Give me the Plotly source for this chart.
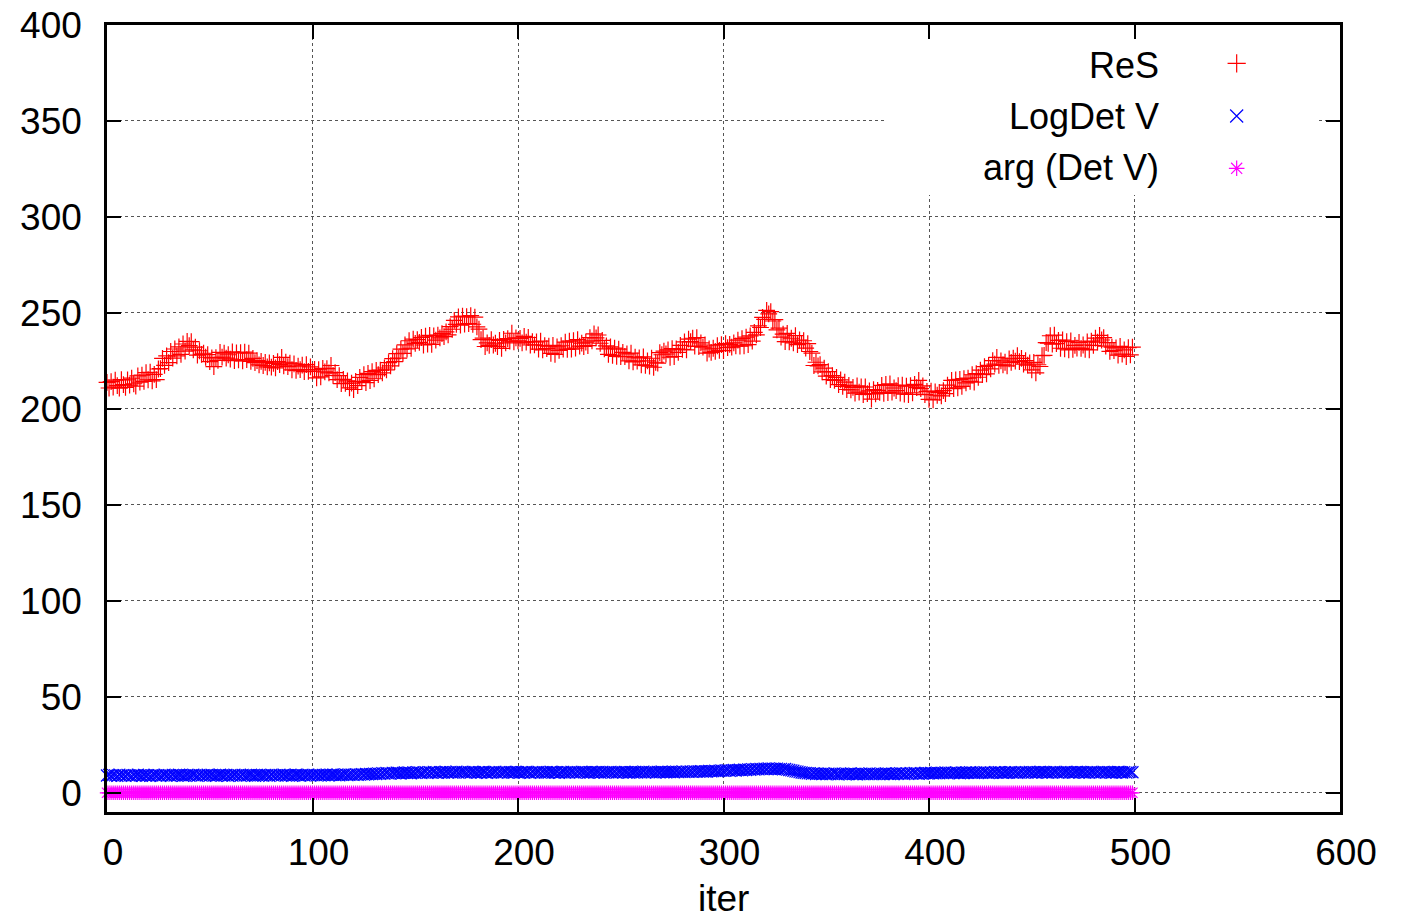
import plotly.graph_objects as go

# ---------------- data ----------------
iters = list(range(500))

res = [
    213.8, 210.9, 214.2, 211.3, 215.0, 212.1, 210.8, 215.3, 212.6, 211.2, 215.1, 212.4, 216.0, 213.1, 211.9, 217.2, 214.0, 217.6, 214.3, 218.9, 215.2, 219.1, 214.6, 218.0, 215.3,
    220.8, 221.0, 226.3, 222.7, 227.6, 224.1, 229.9, 226.5, 231.2, 227.6, 232.3, 228.4, 233.8, 230.1, 235.2, 233.0, 235.1, 230.8, 232.2, 228.0, 230.3, 228.4, 229.0, 226.9, 228.3,
    224.6, 226.6, 222.0, 226.7, 225.3, 229.4, 227.0, 229.1, 226.5, 228.2, 225.9, 229.7, 225.1, 229.2, 225.6, 229.3, 225.0, 229.6, 225.7, 229.1, 224.8, 226.3, 224.1, 225.2, 222.9,
    224.8, 222.6, 224.2, 221.9, 224.0, 221.8, 223.7, 221.4, 224.6, 223.1, 226.8, 222.4, 224.3, 222.0, 223.8, 220.3, 223.5, 220.1, 222.3, 220.5, 222.8, 219.4, 223.1, 219.6, 221.9,
    219.7, 220.6, 216.2, 220.4, 216.7, 221.1, 219.3, 221.0, 218.8, 222.6, 217.5, 218.9, 215.3, 217.3, 213.2, 215.4, 213.3, 214.6, 211.0, 213.4, 210.1, 214.3, 212.1, 216.4, 214.2,
    217.9, 213.7, 218.5, 214.8, 219.4, 215.7, 220.1, 217.9, 220.2, 218.8, 221.3, 220.3, 224.1, 222.4, 226.2, 224.6, 228.8, 226.5, 231.1, 228.9, 233.4, 231.2, 235.5, 231.6, 236.4,
    234.1, 236.1, 234.7, 237.2, 233.3, 237.9, 233.8, 238.3, 233.6, 238.0, 235.8, 238.4, 237.0, 239.2, 237.7, 240.1, 238.6, 242.9, 241.5, 246.1, 244.0, 247.9, 243.6, 248.3, 244.2,
    248.0, 244.5, 248.6, 244.1, 247.8, 242.7, 241.6, 236.1, 236.9, 232.5, 234.4, 233.1, 236.1, 233.3, 234.2, 232.4, 235.7, 231.5, 236.2, 234.4, 236.6, 235.3, 239.4, 234.9, 237.0,
    235.4, 236.7, 234.4, 237.8, 234.8, 237.2, 233.3, 235.1, 233.4, 234.9, 231.1, 235.3, 230.8, 233.0, 231.4, 232.7, 228.9, 233.1, 228.4, 232.3, 230.5, 232.9, 231.2, 234.8, 231.0,
    235.3, 231.1, 235.5, 231.7, 236.1, 232.7, 234.3, 232.5, 234.8, 233.0, 237.1, 235.4, 239.1, 237.0, 238.5, 234.2, 235.7, 231.3, 232.8, 228.4, 232.3, 227.9, 231.7, 227.4, 231.1,
    227.2, 229.4, 227.3, 228.7, 225.0, 229.1, 224.5, 227.0, 224.9, 226.6, 222.9, 227.1, 222.7, 225.0, 222.3, 226.4, 221.7, 224.3, 223.9, 229.3, 228.2, 230.1, 228.6, 230.7, 226.9,
    231.4, 227.3, 231.2, 229.4, 233.1, 231.0, 234.9, 230.7, 236.3, 235.1, 236.8, 232.7, 237.1, 232.5, 234.4, 232.2, 233.3, 229.1, 231.2, 229.4, 231.6, 230.0, 232.9, 230.5, 233.5,
    230.4, 234.0, 231.9, 233.6, 232.2, 234.4, 232.8, 235.8, 232.7, 236.6, 232.9, 237.4, 233.5, 238.0, 235.3, 239.9, 238.6, 243.3, 242.4, 247.7, 246.6, 251.3, 249.5, 250.7, 245.8,
    246.5, 241.2, 242.1, 237.4, 239.0, 235.1, 239.3, 234.9, 236.8, 234.4, 238.2, 233.5, 235.9, 234.1, 235.5, 231.7, 234.0, 229.9, 229.1, 222.6, 224.3, 222.4, 223.1, 219.3, 221.2,
    217.1, 219.4, 215.3, 217.3, 214.9, 216.4, 212.6, 215.1, 211.7, 214.0, 210.1, 212.3, 209.9, 211.2, 208.2, 212.0, 208.7, 211.5, 207.5, 211.4, 208.0, 209.4, 205.1, 210.0, 207.8,
    209.7, 208.6, 212.3, 208.1, 212.7, 208.5, 213.0, 208.8, 210.9, 209.5, 212.1, 208.2, 212.4, 207.7, 211.9, 207.5, 212.1, 208.3, 212.8, 211.1, 214.9, 210.6, 212.0, 207.4, 209.1,
    205.0, 209.3, 204.7, 208.9, 207.1, 208.6, 206.8, 209.5, 208.0, 212.4, 210.7, 214.9, 210.6, 215.1, 211.0, 215.4, 211.7, 215.8, 213.6, 216.0, 214.3, 217.8, 214.0, 218.4, 216.5,
    220.2, 217.9, 222.0, 218.3, 222.7, 220.9, 225.1, 223.3, 226.8, 222.7, 225.0, 222.9, 224.3, 222.4, 226.1, 224.2, 226.4, 224.9, 227.8, 224.6, 226.3, 223.3, 225.1, 222.8, 224.0,
    220.3, 224.2, 218.8, 223.0, 222.1, 227.7, 227.9, 234.5, 234.2, 238.1, 233.7, 238.4, 234.0, 235.7, 231.6, 235.9, 231.3, 235.1, 230.8, 235.4, 231.0, 233.1, 231.7, 234.6, 231.5,
    233.3, 231.0, 234.9, 230.7, 235.3, 233.1, 236.9, 234.8, 238.3, 235.9, 237.1, 232.7, 234.5, 230.0, 232.2, 230.4, 231.8, 228.0, 232.6, 228.5, 230.7, 227.3, 231.9, 228.1, 232.2,
]

logdet_v = [
    9.0, 9.3, 8.9, 9.2, 9.1, 8.8, 9.4, 9.0, 9.2, 8.9, 9.3, 9.1, 8.8, 9.2, 9.0, 9.4, 9.1, 8.9, 9.3, 9.0, 9.2, 8.8, 9.1, 9.3, 9.0,
    9.2, 8.9, 9.1, 9.4, 9.0, 9.2, 8.9, 9.3, 9.1, 9.0, 9.4, 9.2, 8.9, 9.1, 9.3, 9.0, 9.2, 9.4, 9.1, 8.9, 9.3, 9.0, 9.2, 9.1, 9.4,
    9.0, 9.3, 9.1, 8.9, 9.2, 9.4, 9.0, 9.1, 9.3, 8.9, 9.2, 9.0, 9.4, 9.1, 9.2, 8.9, 9.3, 9.1, 9.0, 9.2, 9.4, 9.1, 8.9, 9.3, 9.2,
    9.1, 9.0, 9.3, 9.2, 8.9, 9.4, 9.1, 9.2, 9.0, 9.3, 9.1, 9.4, 9.0, 9.2, 9.3, 8.9, 9.1, 9.4, 9.2, 9.0, 9.3, 9.1, 9.2, 9.4, 9.0,
    9.2, 9.3, 9.1, 9.4, 9.0, 9.3, 9.2, 9.5, 9.1, 9.3, 9.4, 9.2, 9.5, 9.1, 9.3, 9.4, 9.6, 9.2, 9.4, 9.5, 9.3, 9.6, 9.4, 9.5, 9.7,
    9.5, 9.8, 9.6, 9.9, 9.7, 10.0, 9.8, 10.1, 9.9, 10.2, 10.0, 10.3, 10.1, 10.0, 10.4, 10.2, 10.5, 10.3, 10.1, 10.4, 10.6, 10.3, 10.5, 10.2, 10.6,
    10.4, 10.7, 10.5, 10.3, 10.6, 10.8, 10.4, 10.7, 10.5, 10.9, 10.6, 10.4, 10.8, 10.7, 10.5, 10.9, 10.6, 10.8, 10.5, 10.7, 11.0, 10.6, 10.8, 10.9, 10.7,
    10.5, 10.8, 10.6, 10.9, 10.7, 10.5, 10.8, 10.6, 10.9, 10.7, 10.4, 10.8, 10.6, 10.7, 10.9, 10.5, 10.8, 10.6, 10.7, 10.9, 10.5, 10.8, 10.7, 10.6, 10.9,
    10.7, 10.5, 10.8, 10.6, 10.9, 10.7, 10.4, 10.8, 10.6, 10.7, 10.9, 10.5, 10.8, 10.6, 10.7, 10.5, 10.9, 10.7, 10.6, 10.8, 10.4, 10.7, 10.9, 10.6, 10.8,
    10.6, 10.9, 10.7, 10.5, 10.8, 10.6, 10.9, 10.7, 10.8, 10.5, 10.7, 10.9, 10.6, 10.8, 10.7, 10.5, 10.9, 10.6, 10.8, 10.7, 10.9, 10.6, 10.8, 10.5, 10.7,
    10.8, 10.6, 10.9, 10.7, 10.5, 10.8, 10.7, 10.9, 10.6, 10.8, 10.7, 11.0, 10.6, 10.8, 10.9, 10.7, 10.8, 10.6, 10.9, 10.7, 11.0, 10.8, 10.7, 10.9, 10.8,
    10.9, 10.7, 11.0, 10.8, 10.9, 11.1, 10.8, 11.0, 10.9, 11.1, 10.9, 11.2, 11.0, 11.1, 11.3, 11.0, 11.2, 11.1, 11.4, 11.2, 11.3, 11.5, 11.2, 11.4, 11.6,
    11.4, 11.6, 11.8, 11.5, 11.7, 11.9, 11.6, 11.8, 12.0, 11.7, 12.1, 11.9, 12.2, 12.0, 12.3, 12.1, 12.4, 12.2, 12.5, 12.3, 12.6, 12.4, 12.7, 12.5, 12.6,
    12.4, 12.6, 12.3, 12.5, 12.2, 12.4, 12.1, 11.9, 11.7, 11.5, 11.2, 11.0, 10.8, 10.6, 10.4, 10.3, 10.1, 10.2, 9.9, 10.1, 9.8, 10.0, 9.9, 9.7, 10.0,
    9.8, 10.0, 9.7, 9.9, 10.1, 9.8, 9.6, 9.9, 10.0, 9.7, 9.9, 9.8, 10.1, 9.7, 9.9, 9.6, 9.8, 10.0, 9.7, 9.9, 9.8, 10.1, 9.7, 9.9, 9.8,
    10.0, 9.7, 9.9, 9.8, 10.1, 9.9, 9.7, 10.0, 9.8, 10.1, 9.9, 10.2, 10.0, 9.8, 10.1, 9.9, 10.2, 10.0, 10.3, 10.1, 9.9, 10.2, 10.0, 10.3, 10.1,
    10.2, 10.4, 10.1, 10.3, 10.5, 10.2, 10.4, 10.3, 10.6, 10.2, 10.4, 10.5, 10.3, 10.6, 10.4, 10.2, 10.5, 10.3, 10.6, 10.4, 10.7, 10.5, 10.3, 10.6, 10.4,
    10.6, 10.4, 10.7, 10.5, 10.3, 10.6, 10.4, 10.7, 10.5, 10.8, 10.6, 10.4, 10.7, 10.5, 10.6, 10.8, 10.5, 10.7, 10.4, 10.6, 10.8, 10.5, 10.7, 10.6, 10.9,
    10.6, 10.8, 10.5, 10.7, 10.9, 10.6, 10.8, 10.7, 10.5, 10.8, 10.6, 10.9, 10.7, 10.5, 10.8, 10.6, 10.7, 10.9, 10.6, 10.8, 10.5, 10.7, 10.9, 10.6, 10.8,
    10.7, 10.5, 10.8, 10.6, 10.9, 10.7, 10.6, 10.8, 10.5, 10.7, 10.9, 10.6, 10.8, 10.7, 10.5, 10.8, 10.6, 10.9, 10.7, 10.6, 10.8, 10.5, 10.7, 10.9, 10.7,
]

arg_det_v = [
    0, 0, 0, 0, 0, 0, 0, 0, 0, 0, 0, 0, 0, 0, 0, 0, 0, 0, 0, 0, 0, 0, 0, 0, 0, 0, 0, 0, 0, 0, 0, 0, 0, 0, 0, 0, 0, 0, 0, 0, 0, 0, 0, 0, 0, 0, 0, 0, 0, 0,
    0, 0, 0, 0, 0, 0, 0, 0, 0, 0, 0, 0, 0, 0, 0, 0, 0, 0, 0, 0, 0, 0, 0, 0, 0, 0, 0, 0, 0, 0, 0, 0, 0, 0, 0, 0, 0, 0, 0, 0, 0, 0, 0, 0, 0, 0, 0, 0, 0, 0,
    0, 0, 0, 0, 0, 0, 0, 0, 0, 0, 0, 0, 0, 0, 0, 0, 0, 0, 0, 0, 0, 0, 0, 0, 0, 0, 0, 0, 0, 0, 0, 0, 0, 0, 0, 0, 0, 0, 0, 0, 0, 0, 0, 0, 0, 0, 0, 0, 0, 0,
    0, 0, 0, 0, 0, 0, 0, 0, 0, 0, 0, 0, 0, 0, 0, 0, 0, 0, 0, 0, 0, 0, 0, 0, 0, 0, 0, 0, 0, 0, 0, 0, 0, 0, 0, 0, 0, 0, 0, 0, 0, 0, 0, 0, 0, 0, 0, 0, 0, 0,
    0, 0, 0, 0, 0, 0, 0, 0, 0, 0, 0, 0, 0, 0, 0, 0, 0, 0, 0, 0, 0, 0, 0, 0, 0, 0, 0, 0, 0, 0, 0, 0, 0, 0, 0, 0, 0, 0, 0, 0, 0, 0, 0, 0, 0, 0, 0, 0, 0, 0,
    0, 0, 0, 0, 0, 0, 0, 0, 0, 0, 0, 0, 0, 0, 0, 0, 0, 0, 0, 0, 0, 0, 0, 0, 0, 0, 0, 0, 0, 0, 0, 0, 0, 0, 0, 0, 0, 0, 0, 0, 0, 0, 0, 0, 0, 0, 0, 0, 0, 0,
    0, 0, 0, 0, 0, 0, 0, 0, 0, 0, 0, 0, 0, 0, 0, 0, 0, 0, 0, 0, 0, 0, 0, 0, 0, 0, 0, 0, 0, 0, 0, 0, 0, 0, 0, 0, 0, 0, 0, 0, 0, 0, 0, 0, 0, 0, 0, 0, 0, 0,
    0, 0, 0, 0, 0, 0, 0, 0, 0, 0, 0, 0, 0, 0, 0, 0, 0, 0, 0, 0, 0, 0, 0, 0, 0, 0, 0, 0, 0, 0, 0, 0, 0, 0, 0, 0, 0, 0, 0, 0, 0, 0, 0, 0, 0, 0, 0, 0, 0, 0,
    0, 0, 0, 0, 0, 0, 0, 0, 0, 0, 0, 0, 0, 0, 0, 0, 0, 0, 0, 0, 0, 0, 0, 0, 0, 0, 0, 0, 0, 0, 0, 0, 0, 0, 0, 0, 0, 0, 0, 0, 0, 0, 0, 0, 0, 0, 0, 0, 0, 0,
    0, 0, 0, 0, 0, 0, 0, 0, 0, 0, 0, 0, 0, 0, 0, 0, 0, 0, 0, 0, 0, 0, 0, 0, 0, 0, 0, 0, 0, 0, 0, 0, 0, 0, 0, 0, 0, 0, 0, 0, 0, 0, 0, 0, 0, 0, 0, 0, 0, 0,
]

x_ticks = [0, 100, 200, 300, 400, 500, 600]
y_ticks = [0, 50, 100, 150, 200, 250, 300, 350, 400]
series_names = ["ReS", "LogDet V", "arg (Det V)"]
series_colors = ["#ff0000", "#0000ff", "#ff00ff"]
series_symbols = ["cross-thin", "x-thin", "asterisk"]
x_title = "iter"

# ---------------- figure ----------------
FONT = "Liberation Sans, Arial, Helvetica, sans-serif"
TICK_SIZE = 37
LEG_SIZE = 36
X_RANGE = [0, 600]
Y_RANGE = [-10, 400]

fig = go.Figure()

for vals, name, col, sym in zip([res, logdet_v, arg_det_v], series_names, series_colors, series_symbols):
    fig.add_trace(go.Scatter(
        x=iters, y=vals, mode="markers", name=name, showlegend=False,
        cliponaxis=False,
        marker=dict(symbol=sym, size=12, color=col, line=dict(color=col, width=1.2)),
    ))

# hand-made gnuplot-style key (text on the left, symbol on the right)
key_x_text = 0.8548
key_text_rows = [0.9488, 0.8836, 0.8186]
key_x_sym = 0.9162
key_sym_rows = [0.9513, 0.8844, 0.8179]
for name, col, sym, ty, sy in zip(series_names, series_colors, series_symbols, key_text_rows, key_sym_rows):
    fig.add_trace(go.Scatter(
        x=[key_x_sym], y=[sy], xaxis="x2", yaxis="y2", mode="markers",
        showlegend=False, hoverinfo="skip", cliponaxis=False,
        marker=dict(symbol=sym, size=13, color=col, line=dict(color=col, width=1.2)),
    ))
    fig.add_annotation(
        x=key_x_text, y=ty, xref="paper", yref="paper", text=name, showarrow=False,
        xanchor="right", yanchor="middle", font=dict(family=FONT, size=LEG_SIZE, color="black"),
    )

# x-axis title placed as annotation so it can sit low, near the bottom edge
fig.add_annotation(
    x=0.5, y=-0.1105, xref="paper", yref="paper", text=x_title, showarrow=False,
    xanchor="center", yanchor="middle", font=dict(family=FONT, size=TICK_SIZE, color="black"),
)

# white box behind the key hides the grid lines (given as fractions of the plot area)
box_fx = (0.631, 0.982)
box_fy = (0.784, 1.0)
def fx(f):
    return X_RANGE[0] + f * (X_RANGE[1] - X_RANGE[0])
def fy(f):
    return Y_RANGE[0] + f * (Y_RANGE[1] - Y_RANGE[0])
fig.add_shape(type="rect", xref="x", yref="y",
              x0=fx(box_fx[0]), x1=fx(box_fx[1]), y0=fy(box_fy[0]), y1=fy(box_fy[1]),
              fillcolor="white", line=dict(width=0), layer="between")

axis_common = dict(
    showline=True, linecolor="black", linewidth=2.5, mirror="ticks",
    ticks="inside", ticklen=14, tickwidth=2, tickcolor="black",
    showgrid=True, gridcolor="#555555", gridwidth=1, griddash="3px,3px",
    zeroline=False, automargin=False,
    tickfont=dict(family=FONT, size=TICK_SIZE, color="black"),
)

fig.update_layout(
    width=1401, height=922,
    margin=dict(l=107, r=61, t=25, b=110),
    paper_bgcolor="white", plot_bgcolor="white",
    showlegend=False,
    font=dict(family=FONT, color="black"),
    xaxis=dict(range=X_RANGE, tickvals=x_ticks, ticklabelshift=6, ticklabelstandoff=6,
               **axis_common),
    yaxis=dict(range=Y_RANGE, tickvals=y_ticks, ticklabelstandoff=15, **axis_common),
    xaxis2=dict(overlaying="x", range=[0, 1], visible=False),
    yaxis2=dict(overlaying="y", range=[0, 1], visible=False),
)

fig.write_html("out.html")
